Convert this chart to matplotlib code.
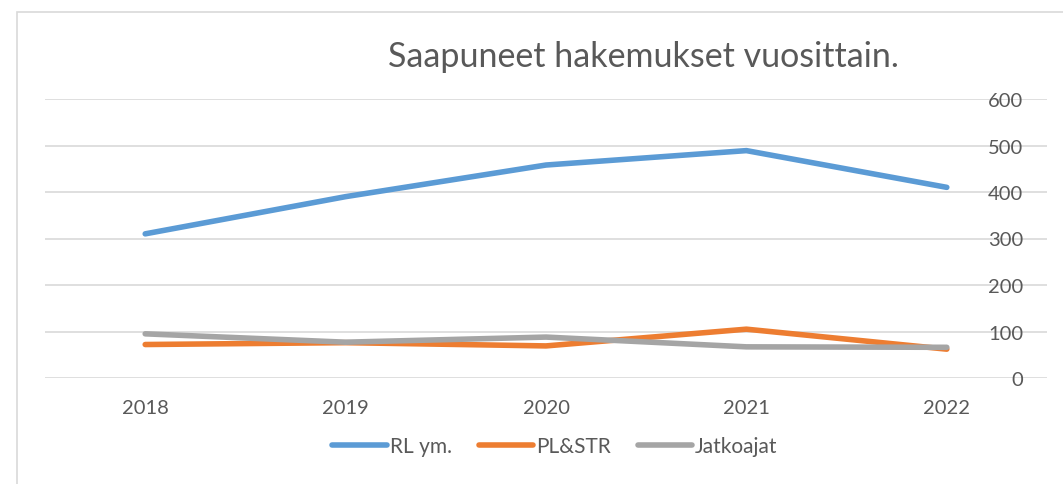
import matplotlib
matplotlib.use('Agg')
import matplotlib.pyplot as plt
from matplotlib.patches import Rectangle

plt.rcParams['font.family'] = ['Lato', 'DejaVu Sans']

# ---------------------------
# data
# ---------------------------
years = ['2018', '2019', '2020', '2021', '2022']
rl_ym = [310, 390, 458, 489, 410]
pl_str = [72, 76, 69, 105, 62]
jatkoajat = [95, 77, 88, 67, 66]
y_ticks = [0, 100, 200, 300, 400, 500, 600]

series = [
    ('RL ym.', rl_ym, '#5B9BD5'),
    ('PL&STR', pl_str, '#ED7D31'),
    ('Jatkoajat', jatkoajat, '#A5A5A5'),
]

W, H = 1063, 485
fig = plt.figure(figsize=(W / 100, H / 100), dpi=100)
ax = fig.add_axes([45 / W, 1 - 379 / H, (1047 - 45) / W, (379 - 100) / H])

# chart border
fig.patches.append(Rectangle((17 / W, -0.1), 1.2, 1 - 13 / H + 0.1, transform=fig.transFigure,
                             fill=False, edgecolor='#D9D9D9', linewidth=1.2))

x = list(range(len(years)))
for name, vals, col in series:
    ax.plot(x, vals, color=col, linewidth=4.0, solid_capstyle='round',
            solid_joinstyle='round', label=name)

ax.set_xlim(-0.5, len(years) - 0.5)
ax.set_ylim(0, 600)
ax.set_xticks(x)
ax.set_xticklabels(years)
ax.set_yticks(y_ticks)
ax.yaxis.tick_right()
ax.tick_params(axis='y', length=0, pad=-17, labelsize=14.5, labelcolor='#595959')
ax.tick_params(axis='x', length=0, pad=15, labelsize=14.5, labelcolor='#595959')
for lab in ax.get_yticklabels():
    lab.set_horizontalalignment('right')
ax.grid(axis='y', color='#D9D9D9', linewidth=1.2)
ax.set_axisbelow(True)
for s in ax.spines.values():
    s.set_visible(False)

fig.text(643 / W, 1 - 57 / H, 'Saapuneet hakemukset vuosittain.', ha='center', va='center',
         fontsize=24.5, color='#595959')

leg = fig.legend(loc='center', bbox_to_anchor=(555 / W, 1 - 447 / H), ncol=3, frameon=False,
                 fontsize=15, handlelength=2.6, handletextpad=0.15, columnspacing=1.3)
for t in leg.get_texts():
    t.set_color('#595959')

fig.savefig('out.png', dpi=100)
